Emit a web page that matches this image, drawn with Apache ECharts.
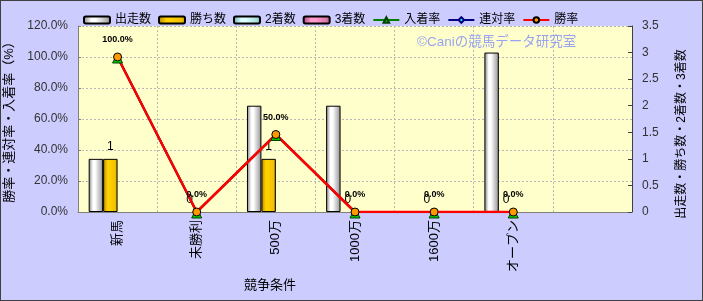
<!DOCTYPE html>
<html><head><meta charset="utf-8">
<script src="https://cdn.jsdelivr.net/npm/echarts@6/dist/echarts.min.js"></script>
<style>
html,body{margin:0;padding:0;background:#ccccff;}
#c{width:703px;height:301px;box-sizing:border-box;border:1px solid #404040;}
</style></head><body>
<div id="c"></div>
<script>
const categories = ['新馬','未勝利','500万','1000万','1600万','オープン',''];
const starts  = [1, 0, 2, 2, 0, 3, null];
const wins    = [1, 0, 1, 0, 0, 0, null];
const seconds = [0, 0, 0, 0, 0, 0, null];
const thirds  = [0, 0, 0, 0, 0, 0, null];
const placeRate = [100, 0, 50, 0, 0, 0, null];
const rentaiRate = [100, 0, 50, 0, 0, 0, null];
const winRate = [100, 0, 50, 0, 0, 0, null];
const leftTicks = {min:0, max:120, interval:20};
const rightTicks = {min:0, max:3.5, interval:0.5};

const FONT = "'Liberation Sans','Noto Sans CJK JP',sans-serif";
function grad(edge, mid, light){
  return {type:'linear',x:0,y:0,x2:1,y2:0,colorStops:[
    {offset:0,color:edge},{offset:0.3,color:light},{offset:0.45,color:light},{offset:0.85,color:mid},{offset:1,color:edge}]};
}
// zero-height bars have no visible outline
function barData(arr){
  return arr.map(v => v === 0 ? {value:0, itemStyle:{borderWidth:0}} : v);
}
const chart = echarts.init(document.getElementById('c'));
const barBase = {type:'bar', yAxisIndex:1, barGap:'0%', barCategoryGap:'27%'};
chart.setOption({
  animation:false,
  textStyle:{fontFamily:FONT},
  legend:{left:77, top:8, itemWidth:26, itemHeight:7, itemGap:7,
    textStyle:{fontSize:12, color:'#000', fontFamily:FONT},
    data:['出走数','勝ち数','2着数','3着数','入着率','連対率','勝率']},
  grid:{left:77, right:70, top:25, bottom:88, show:true, backgroundColor:'#ffffcc', borderWidth:0, outerBoundsMode:'none', containLabel:false},
  xAxis:{type:'category', data:categories,
    axisLine:{lineStyle:{color:'#808080'}}, axisTick:{show:false},
    axisLabel:{rotate:90, fontSize:13, color:'#000', margin:8, interval:0},
    splitLine:{show:true, interval:0, lineStyle:{color:'#b8b8b8', type:[2,2]}}},
  yAxis:[
    {type:'value', min:leftTicks.min, max:leftTicks.max, interval:leftTicks.interval,
     name:'勝率・連対率・入着率（%）', nameLocation:'middle', nameGap:56,
     nameTextStyle:{fontSize:13, color:'#000'},
     axisLine:{show:true, lineStyle:{color:'#808080'}}, axisTick:{show:true, inside:true, length:3},
     axisLabel:{fontSize:12, color:'#333', margin:10, formatter:v=>v.toFixed(1)+'%'},
     splitLine:{show:true, lineStyle:{color:'#b8b8b8', type:[2,2]}}},
    {type:'value', min:rightTicks.min, max:rightTicks.max, interval:rightTicks.interval,
     name:'出走数・勝ち数・2着数・3着数', nameLocation:'middle', nameGap:44, nameRotate:90,
     nameTextStyle:{fontSize:12, color:'#000', padding:[0,0,0,-30]},
     axisLine:{show:true, lineStyle:{color:'#404040'}}, axisTick:{show:true, inside:true, length:4, lineStyle:{color:'#404040'}},
     axisLabel:{fontSize:12, color:'#333', margin:10},
     splitLine:{show:false}}
  ],
  graphic:[
    {type:'text', left:416, top:35, z:1, style:{text:'©Caniの競馬データ研究室', fill:'#99a3f0', font:"13.5px 'Liberation Sans','Noto Sans CJK JP',sans-serif"}},
    {type:'text', left:243, top:277, style:{text:'競争条件', fill:'#000', font:"13px 'Noto Sans CJK JP',sans-serif"}}
  ],
  series:[
    Object.assign({}, barBase, {name:'出走数', data:barData(starts),
      itemStyle:{color:grad('#808080','#b0b0b0','#ffffff'), borderColor:'#000', borderWidth:1}}),
    Object.assign({}, barBase, {name:'勝ち数', data:barData(wins),
      itemStyle:{color:grad('#b08800','#f0c000','#ffd000'), borderColor:'#000', borderWidth:1},
      label:{show:true, position:'top', distance:6, fontSize:12, color:'#000', fontFamily:FONT}}),
    Object.assign({}, barBase, {name:'2着数', data:barData(seconds),
      itemStyle:{color:grad('#66aaaa','#aadddd','#ddffff'), borderColor:'#000', borderWidth:1}}),
    Object.assign({}, barBase, {name:'3着数', data:barData(thirds),
      itemStyle:{color:grad('#aa4477','#dd77aa','#ff99cc'), borderColor:'#000', borderWidth:1}}),
    {type:'line', name:'入着率', yAxisIndex:0, data:placeRate, symbol:'triangle', symbolSize:10, symbolOffset:[0,1],
      lineStyle:{color:'#008000', width:2}, itemStyle:{color:'#00cc00', borderColor:'#004000', borderWidth:1}},
    {type:'line', name:'連対率', yAxisIndex:0, data:rentaiRate, symbol:'diamond', symbolSize:7,
      lineStyle:{color:'#000080', width:2}, itemStyle:{color:'#33ffff', borderColor:'#000080', borderWidth:1}},
    {type:'line', name:'勝率', yAxisIndex:0, data:winRate, symbol:'circle', symbolSize:8,
      lineStyle:{color:'#ff0000', width:2.5}, itemStyle:{color:'#ff9900', borderColor:'#000', borderWidth:1},
      label:{show:true, position:'top', distance:8, fontSize:9, fontWeight:'bold', color:'#000',
        formatter:p=>p.value.toFixed(1)+'%'}}
  ]
});
</script></body></html>
